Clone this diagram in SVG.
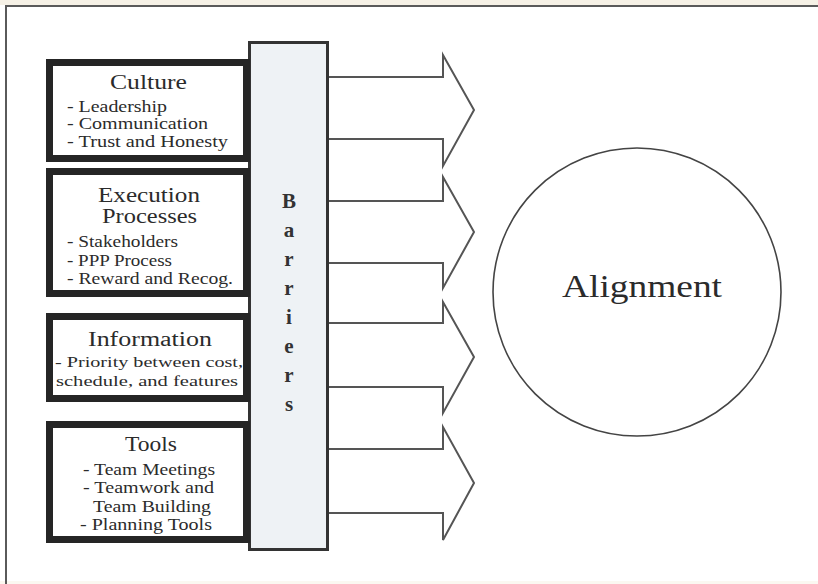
<svg xmlns="http://www.w3.org/2000/svg" width="818" height="584" viewBox="0 0 818 584">
  <style>
    .frame { fill: none; stroke: #5a5a5a; stroke-width: 2; }
    .box { fill: #ffffff; stroke: #252525; stroke-width: 7; }
    .bar { fill: #eef2f5; stroke: #333333; stroke-width: 3; }
    .arrow { fill: #ffffff; stroke: #555555; stroke-width: 2; stroke-linejoin: miter; }
    .goal { fill: #ffffff; stroke: #444444; stroke-width: 1.6; }
    text { font-family: "Liberation Serif", "Times New Roman", serif; fill: #2b2b2b; }
    .title { font-size: 20px; }
    .item { font-size: 16px; }
    .small { font-size: 14px; }
    .letter { font-size: 21px; font-weight: bold; text-anchor: middle; fill: #333333; }
    .big { font-size: 31px; }
  </style>

  <!-- page -->
  <rect x="0" y="0" width="818" height="584" fill="#ffffff"/>
  <rect x="0" y="0" width="818" height="5" fill="#f6f1e6"/>
  <rect x="0" y="581" width="818" height="3" fill="#fbf8f1"/>
  <path class="frame" d="M6,584 V6 H818"/>

  <!-- connectors: block arrows leaving the barrier column -->
  <g id="connectors">
    <path class="arrow" d="M328,77 H443 V55 L474,110 L443,166 V139 H328"/>
    <path class="arrow" d="M328,201 H443 V177 L474,232 L443,288 V263 H328"/>
    <path class="arrow" d="M328,323 H443 V302 L474,357 L443,413 V387 H328"/>
    <path class="arrow" d="M328,449 H443 V427 L474,483 L443,540 V513 H328"/>
  </g>

  <!-- barrier column -->
  <g id="barriers">
    <rect class="bar" x="249.5" y="42.5" width="78" height="507"/>
    <text class="letter" x="289" y="208">B</text>
    <text class="letter" x="289" y="237">a</text>
    <text class="letter" x="289" y="266">r</text>
    <text class="letter" x="289" y="295">r</text>
    <text class="letter" x="289" y="324">i</text>
    <text class="letter" x="289" y="353">e</text>
    <text class="letter" x="289" y="382">r</text>
    <text class="letter" x="289" y="411">s</text>
  </g>

  <g id="culture">
    <rect class="box" x="49.5" y="62.5" width="197" height="96"/>
    <text class="title" x="110" y="89" textLength="77" lengthAdjust="spacingAndGlyphs">Culture</text>
    <text class="item" x="67" y="112" textLength="100" lengthAdjust="spacingAndGlyphs">- Leadership</text>
    <text class="item" x="67" y="129" textLength="141" lengthAdjust="spacingAndGlyphs">- Communication</text>
    <text class="item" x="67" y="147" textLength="161" lengthAdjust="spacingAndGlyphs">- Trust and Honesty</text>
  </g>

  <g id="execution">
    <rect class="box" x="49.5" y="171.5" width="197" height="122"/>
    <text class="title" x="98" y="202" textLength="102" lengthAdjust="spacingAndGlyphs">Execution</text>
    <text class="title" x="102" y="223" textLength="95" lengthAdjust="spacingAndGlyphs">Processes</text>
    <text class="item" x="67" y="247" textLength="111" lengthAdjust="spacingAndGlyphs">- Stakeholders</text>
    <text class="item" x="67" y="266" textLength="105" lengthAdjust="spacingAndGlyphs">- PPP Process</text>
    <text class="item" x="67" y="284" textLength="166" lengthAdjust="spacingAndGlyphs">- Reward and Recog.</text>
  </g>

  <g id="information">
    <rect class="box" x="49.5" y="316.5" width="197" height="82"/>
    <text class="title" x="88" y="346" textLength="124" lengthAdjust="spacingAndGlyphs">Information</text>
    <text class="small" x="55" y="367" textLength="188" lengthAdjust="spacingAndGlyphs">- Priority between cost,</text>
    <text class="small" x="56" y="386" textLength="182" lengthAdjust="spacingAndGlyphs">schedule, and features</text>
  </g>

  <g id="tools">
    <rect class="box" x="49.5" y="424.5" width="197" height="115"/>
    <text class="title" x="125" y="451" textLength="52" lengthAdjust="spacingAndGlyphs">Tools</text>
    <text class="item" x="83" y="475" textLength="132" lengthAdjust="spacingAndGlyphs">- Team Meetings</text>
    <text class="item" x="83" y="493" textLength="131" lengthAdjust="spacingAndGlyphs">- Teamwork and</text>
    <text class="item" x="93" y="512" textLength="118" lengthAdjust="spacingAndGlyphs">Team Building</text>
    <text class="item" x="80" y="530" textLength="132" lengthAdjust="spacingAndGlyphs">- Planning Tools</text>
  </g>

  <g id="alignment">
    <circle class="goal" cx="637" cy="292" r="144"/>
    <text class="big" x="562" y="297" textLength="160" lengthAdjust="spacingAndGlyphs">Alignment</text>
  </g>
</svg>
